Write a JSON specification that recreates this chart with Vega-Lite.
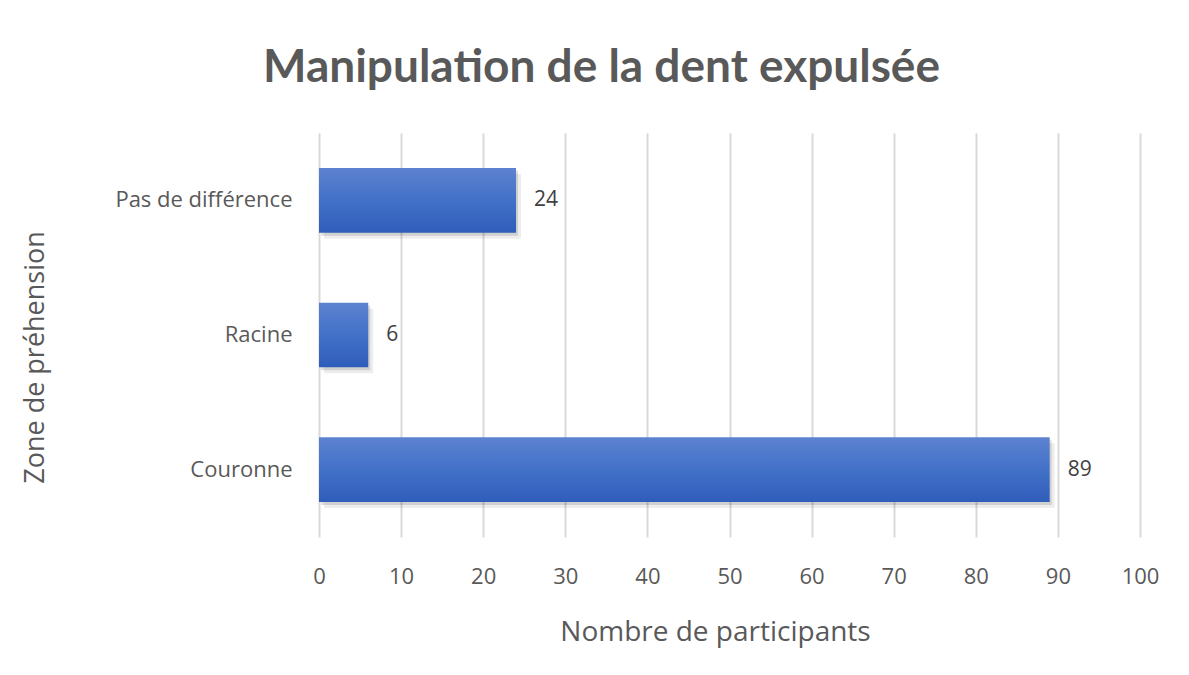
{
  "$schema": "https://vega.github.io/schema/vega-lite/v6.json",
  "width": 821,
  "height": 404,
  "autosize": {"type": "none"},
  "padding": {"left": 319, "top": 133, "right": 49, "bottom": 138},
  "background": "white",
  "title": {
    "text": "Manipulation de la dent expulsée",
    "font": "Lato",
    "fontSize": 46,
    "fontWeight": "bold",
    "color": "#595959",
    "anchor": "middle",
    "frame": "group",
    "dx": -128,
    "offset": 5,
    "baseline": "alphabetic"
  },
  "data": {
    "values": [
      {"zone": "Pas de différence", "n": 24},
      {"zone": "Racine", "n": 6},
      {"zone": "Couronne", "n": 89}
    ]
  },
  "encoding": {
    "y": {
      "field": "zone",
      "type": "nominal",
      "sort": ["Pas de différence", "Racine", "Couronne"],
      "scale": {"paddingInner": 0.52, "paddingOuter": 0.26},
      "axis": {
        "title": "Zone de préhension",
        "titleFont": "Open Sans",
        "titleFontSize": 27,
        "titleFontWeight": "normal",
        "titleColor": "#595959",
        "titleX": -284,
        "titleY": 224,
        "titleAlign": "center",
        "titleBaseline": "middle",
        "titleAngle": -90,
        "labelFont": "Open Sans",
        "labelFontSize": 22,
        "labelColor": "#595959",
        "labelPadding": 27,
        "ticks": false,
        "domain": false,
        "grid": false
      }
    },
    "x": {
      "field": "n",
      "type": "quantitative",
      "scale": {"domain": [0, 100], "nice": false},
      "axis": {
        "title": "Nombre de participants",
        "titleFont": "Open Sans",
        "titleFontSize": 28,
        "titleFontWeight": "normal",
        "titleColor": "#595959",
        "titleX": 396,
        "titleY": 103,
        "titleAlign": "center",
        "titleBaseline": "alphabetic",
        "values": [0, 10, 20, 30, 40, 50, 60, 70, 80, 90, 100],
        "labelFont": "Open Sans",
        "labelFontSize": 22,
        "labelColor": "#595959",
        "labelPadding": 29,
        "labelFlush": false,
        "labelOverlap": false,
        "ticks": false,
        "domain": false,
        "grid": true,
        "gridColor": "#d9d9d9",
        "gridWidth": 2
      }
    }
  },
  "layer": [
    {
      "mark": {"type": "bar", "color": "#000000", "opacity": 0.07, "xOffset": 5, "yOffset": 6},
      "encoding": {}
    },
    {
      "mark": {"type": "bar", "color": "#000000", "opacity": 0.12, "xOffset": 2, "yOffset": 3},
      "encoding": {}
    },
    {
      "mark": {
        "type": "bar",
        "color": {
          "gradient": "linear",
          "x1": 0, "y1": 0, "x2": 0, "y2": 1,
          "stops": [
            {"offset": 0, "color": "#5d82d0"},
            {"offset": 0.5, "color": "#4271c8"},
            {"offset": 1, "color": "#2f5dba"}
          ]
        }
      },
      "encoding": {}
    },
    {
      "mark": {"type": "text", "align": "left", "baseline": "middle", "dx": 18, "font": "Open Sans", "fontSize": 21, "color": "#404040"},
      "encoding": {"text": {"field": "n", "type": "quantitative"}}
    }
  ],
  "config": {"view": {"stroke": null}}
}
